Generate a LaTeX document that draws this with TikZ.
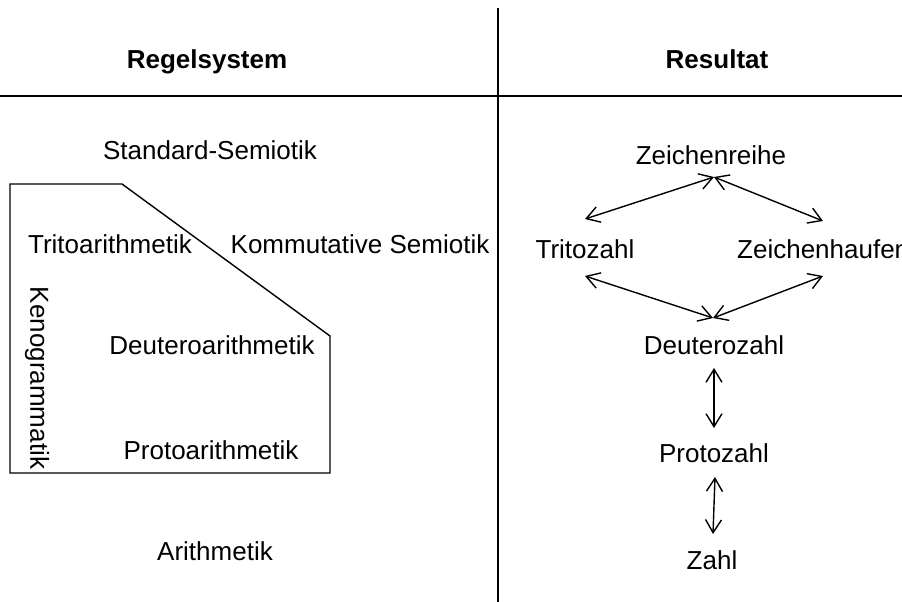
\documentclass[tikz,border=0pt]{standalone}
\usepackage{fontspec}
\setmainfont{Liberation Sans}
\usetikzlibrary{arrows.meta}
\begin{document}
\begin{tikzpicture}[x=1pt,y=-1pt,
  lbl/.style={font=\fontsize{26}{30}\selectfont,inner sep=0pt,anchor=base},
  head/.style={font=\bfseries\fontsize{26}{30}\selectfont,inner sep=0pt,anchor=base},
  dbl/.style={{Straight Barb[length=13pt,width=16pt]}-{Straight Barb[length=13pt,width=16pt]},line width=1.4pt}]
\useasboundingbox (0,0) rectangle (902,602);
\draw[line width=1.4pt] (498,8) -- (498,602);
\draw[line width=1.4pt] (0,96) -- (902,96);
\node[head] (regel) at (207,68) {Regelsystem};
\node[head] (res) at (717,69) {Resultat};
%%%% links
\draw[line width=1.4pt] (10,184) -- (122,184) -- (330,336) -- (330,473) -- (10,473) -- cycle;
\node[lbl] (std) at (210,159) {Standard-Semiotik};
\node[lbl] (trito) at (110,253) {Tritoarithmetik};
\node[lbl] (komm) at (360,253) {Kommutative Semiotik};
\node[lbl,rotate=-90,anchor=center] (keno) at (37,378) {Kenogrammatik};
\node[lbl] (deutero) at (212,354) {Deuteroarithmetik};
\node[lbl] (proto) at (211,459) {Protoarithmetik};
\node[lbl] (arith) at (215,560) {Arithmetik};
%%%% rechts
\node[lbl] (reihe) at (711,164) {Zeichenreihe};
\node[lbl] (tz) at (585,258) {Tritozahl};
\node[lbl,anchor=base west] (haufen) at (737,258) {Zeichenhaufen};
\node[lbl] (dz) at (714,354) {Deuterozahl};
\node[lbl] (pz) at (714,462) {Protozahl};
\node[lbl] (z) at (712,569) {Zahl};
\coordinate (r0) at (714,177);
\coordinate (t1) at (585,219);
\coordinate (h1) at (823,221);
\coordinate (t2) at (585,276);
\coordinate (h2) at (823,276);
\coordinate (d0) at (713,318);
\coordinate (d1) at (714,368);
\coordinate (p0) at (714,428);
\coordinate (p1) at (715,477);
\coordinate (z0) at (713,534);
\draw[dbl] (t1) -- (r0);
\draw[dbl] (r0) -- (h1);
\draw[dbl] (t2) -- (d0);
\draw[dbl] (d0) -- (h2);
\draw[dbl] (d1) -- (p0);
\draw[dbl] (p1) -- (z0);
\end{tikzpicture}
\end{document}
